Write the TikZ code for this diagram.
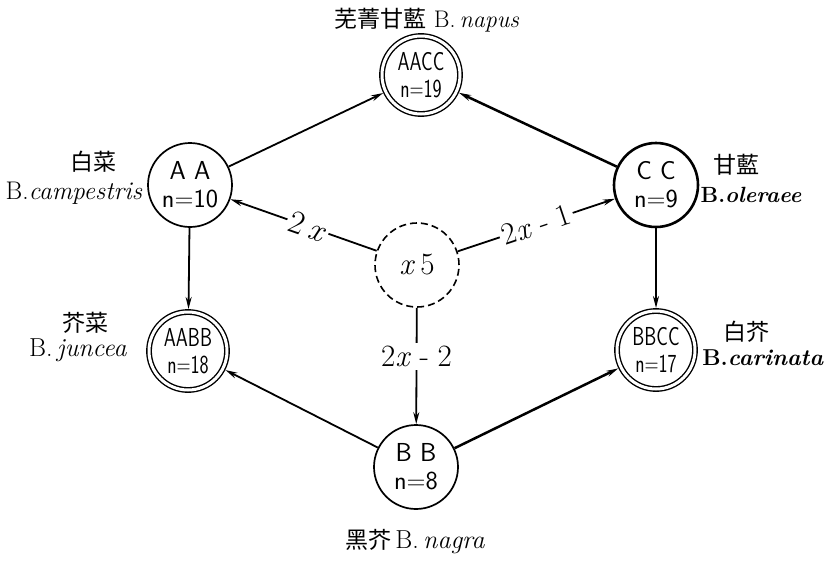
\documentclass[tikz,border=0pt]{standalone}
\usepackage{fontspec}
\newfontfamily\cjk{Noto Sans CJK SC}
\usetikzlibrary{arrows.meta}
\newcommand{\cnd}[1]{\scalebox{0.74}[1]{#1}}
\begin{document}
\begin{tikzpicture}[x=1pt,y=-1pt,
  state/.style={circle,draw,line width=1.7pt,minimum size=84pt,inner sep=0pt,align=center,font=\sffamily\fontsize{26}{28}\selectfont},
  dstate/.style={circle,draw,double,double distance=3pt,line width=1.4pt,minimum size=78pt,inner sep=0pt,outer sep=3pt,align=center,font=\sffamily\fontsize{26}{27}\selectfont},
  hub/.style={circle,draw,line width=1.6pt,dash pattern=on 7pt off 4pt,minimum size=84pt,inner sep=0pt,font=\fontsize{31}{31}\selectfont},
  arr/.style={line width=1.8pt,-{Stealth[length=12pt,width=6pt]}},
  thick arr/.style={arr,line width=2.5pt},
  lbl/.style={fill=white,inner sep=3pt,font=\fontsize{31}{31}\selectfont},
  cn/.style={font=\cjk\fontsize{23}{23}\selectfont},
  lat/.style={font=\fontsize{26}{26}\selectfont}]
\useasboundingbox (0,0) rectangle (824,560);

% nodes
\node[dstate] (AACC) at (421,75) {\cnd{AACC}\\\cnd{n=19}};
\node[state] (AA) at (190,185) {A A\\n=10};
\node[state,line width=2.6pt] (CC) at (656,185) {C C\\n=9};
\node[hub] (X) at (417,265) {\textit{x}\,5};
\node[dstate] (AABB) at (188,351) {\cnd{AABB}\\\cnd{n=18}};
\node[dstate] (BBCC) at (656,350) {\cnd{BBCC}\\\cnd{n=17}};
\node[state] (BB) at (416,467) {B B\\n=8};

% labels
\node[font=\fontsize{24}{24}\selectfont] (lAACC) at (427,20) {{\cjk\fontsize{23}{23}\selectfont 芜菁甘藍}\ B.\,\textit{napus}};
\node[cn] (lAAc) at (93,162) {白菜};
\node[lat,font=\fontsize{25.5}{26}\selectfont] (lAAl) at (74,193) {B.\textit{campestris}};
\node[cn] (lCCc) at (736,165) {甘藍};
\node[lat,font=\bfseries\fontsize{22}{22}\selectfont] (lCCl) at (751,195) {B.\textit{oleraee}};
\node[cn] (lAABBc) at (85,323) {芥菜};
\node[lat] (lAABBl) at (78,350) {B.\,\textit{juncea}};
\node[cn] (lBBCCc) at (746,332) {白芥};
\node[lat,font=\bfseries\fontsize{23}{23}\selectfont] (lBBCCl) at (763,358) {B.\textit{carinata}};
\node[font=\fontsize{26}{26}\selectfont] (lBB) at (415,542) {{\cjk\fontsize{23}{23}\selectfont 黑芥}\,B.\,\textit{nagra}};

% connectors
\draw[arr] (AA) -- (AACC);
\draw[thick arr] (CC) -- (AACC);
\draw[arr] (AA) -- (AABB);
\draw[arr] (CC) -- (BBCC);
\draw[arr] (BB) -- (AABB);
\draw[thick arr] (BB) -- (BBCC);
\draw[arr] (X) -- node[lbl,sloped,pos=0.47,font=\fontsize{33}{33}\selectfont]{2\,\textit{x}} (AA);
\draw[arr] (X) -- node[lbl,sloped,pos=0.5]{2\textit{x}\;-\;1} (CC);
\draw[arr] (X) -- node[lbl,pos=0.42]{2\textit{x}\;-\;2} (BB);
\end{tikzpicture}
\end{document}
